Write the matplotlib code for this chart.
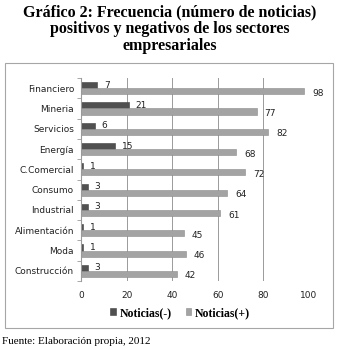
import matplotlib
matplotlib.use("Agg")
import matplotlib.pyplot as plt
from matplotlib.patches import Rectangle
import numpy as np

sectores = ["Financiero", "Mineria", "Servicios", "Energía", "C.Comercial",
            "Consumo", "Industrial", "Alimentación", "Moda", "Construcción"]
negativas = [7, 21, 6, 15, 1, 3, 3, 1, 1, 3]
positivas = [98, 77, 82, 68, 72, 64, 61, 45, 46, 42]
ticks_x = [0, 20, 40, 60, 80, 100]

W, H = 339, 350
fig = plt.figure(figsize=(W / 100, H / 100), dpi=100)
fig.patch.set_facecolor("white")

serif = ["Liberation Serif", "DejaVu Serif"]
fig.text(170 / W, 1 - 12 / H, "Gráfico 2: Frecuencia (número de noticias)", ha="center", va="center",
         fontsize=11.5, fontweight="bold", family=serif)
fig.text(170 / W, 1 - 29 / H, "positivos y negativos de los sectores", ha="center", va="center",
         fontsize=11.5, fontweight="bold", family=serif)
fig.text(170 / W, 1 - 46 / H, "empresariales", ha="center", va="center",
         fontsize=11.5, fontweight="bold", family=serif)

# chart frame
fig.patches.append(Rectangle((5 / W, 1 - 328 / H), 328 / W, 265 / H, transform=fig.transFigure,
                             facecolor="none", edgecolor="#a6a6a6", lw=0.8))

ax = fig.add_axes([81 / W, 1 - 281 / H, 228 / W, 203 / H])
n = len(sectores)
y = np.arange(n)
h = 0.3
c_neg = "#505050"
c_pos = "#a3a3a3"
ax.barh(y - h / 2, negativas, height=h, color=c_neg, edgecolor="#404040", lw=0.4, label="Noticias(-)")
ax.barh(y + h / 2, positivas, height=h, color=c_pos, edgecolor="#8a8a8a", lw=0.4, label="Noticias(+)")
for yi, v in zip(y, negativas):
    ax.text(v + 3, yi - h / 2, str(v), va="center", ha="left", fontsize=6.5, color="#222222")
for yi, v in zip(y, positivas):
    ax.text(v + 3.5, yi + h / 2 + 0.1, str(v), va="center", ha="left", fontsize=6.5, color="#222222")

ax.set_ylim(n - 0.5, -0.5)
ax.set_xlim(0, 100)
ax.set_yticks(y)
ax.set_yticklabels(sectores, fontsize=6.5, color="#222222")
ax.set_xticks(ticks_x)
ax.set_xticklabels([str(t) for t in ticks_x], fontsize=6.5, color="#222222")
ax.xaxis.grid(True, color="#9a9a9a", lw=0.7)
ax.set_axisbelow(True)
for s in ["top", "right", "bottom"]:
    ax.spines[s].set_visible(False)
ax.spines["left"].set_color("#9a9a9a")
ax.tick_params(axis="y", length=3, color="#9a9a9a", pad=5)
ax.tick_params(axis="x", length=0, pad=7)
ax.set_yticks(np.arange(n + 1) - 0.5, minor=True)
ax.tick_params(axis="y", which="minor", length=3, color="#9a9a9a")
ax.tick_params(axis="y", which="major", length=0)

leg = fig.legend(handles=ax.get_legend_handles_labels()[0], labels=["Noticias(-)", "Noticias(+)"],
                 loc="center", bbox_to_anchor=(180 / W, 1 - 313 / H), ncol=2, frameon=False,
                 prop={"family": serif, "weight": "bold", "size": 8.5},
                 handlelength=0.5, handleheight=0.5, handletextpad=0.3, columnspacing=1.2)

fig.text(2 / W, 1 - 341 / H, "Fuente: Elaboración propia, 2012", ha="left", va="center",
         fontsize=8, family=serif)

fig.savefig("out.png", dpi=100)
